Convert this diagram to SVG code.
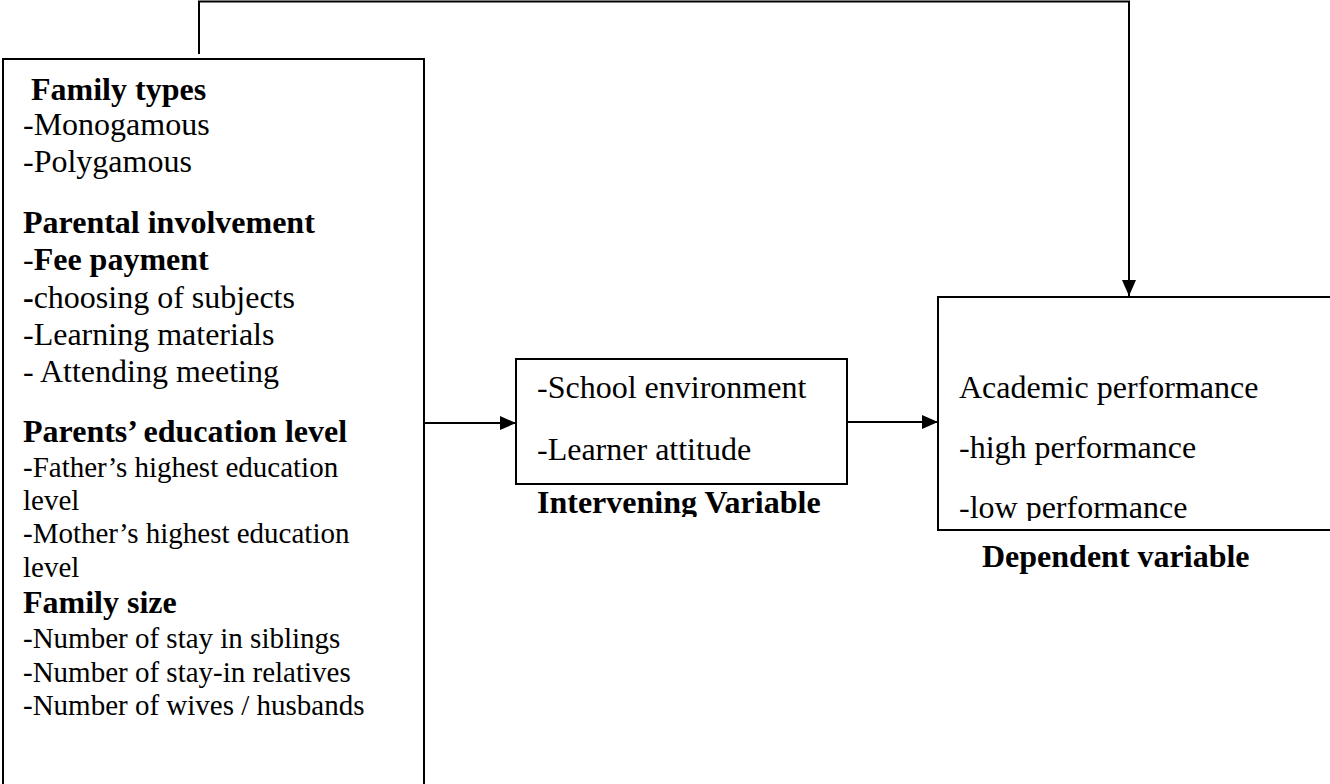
<svg xmlns="http://www.w3.org/2000/svg" width="1330" height="784" viewBox="0 0 1330 784">
<style>
.box{fill:#fff;stroke:#000;stroke-width:2}
.ln{fill:none;stroke:#000;stroke-width:2}
text{font-family:"Liberation Serif","Times New Roman",serif;fill:#000}
.t{font-size:32px}
.s{font-size:29px}
.b{font-weight:bold}
</style>
<defs>
<marker id="ah" viewBox="0 0 16 14" refX="16" refY="7" markerWidth="16" markerHeight="14" markerUnits="userSpaceOnUse" orient="auto">
<path d="M0,0 L16,7 L0,14 Z" fill="#000"/>
</marker>
<clipPath id="cm"><rect x="500" y="340" width="360" height="177"/></clipPath>
<clipPath id="cr"><rect x="930" y="290" width="420" height="231"/></clipPath>
</defs>
<rect width="1330" height="784" fill="#fff"/>
<g id="connectors">
<path class="ln" d="M199,54 V1.5 H1129 V296" marker-end="url(#ah)"/>
<line class="ln" x1="424" y1="423" x2="516" y2="423" marker-end="url(#ah)"/>
<line class="ln" x1="848" y1="422" x2="938" y2="422" marker-end="url(#ah)"/>
</g>
<g id="independent">
<rect class="box" x="3" y="59" width="421" height="760"/>
<text class="t b" x="31" y="100">Family types</text>
<text class="t" x="23" y="135">-Monogamous</text>
<text class="t" x="23" y="172">-Polygamous</text>
<text class="t b" x="23" y="233">Parental involvement</text>
<text class="t" x="23" y="270">-<tspan class="b">Fee payment</tspan></text>
<text class="t" x="23" y="308"><tspan class="b">-</tspan>choosing of subjects</text>
<text class="t" x="23" y="345">-Learning materials</text>
<text class="t" x="23" y="382">- Attending meeting</text>
<text class="t b" x="23" y="442">Parents’ education level</text>
<text class="s" x="23" y="477">-Father’s highest education</text>
<text class="s" x="23" y="510">level</text>
<text class="s" x="23" y="543">-Mother’s highest education</text>
<text class="s" x="23" y="577">level</text>
<text class="t b" x="23" y="613">Family size</text>
<text class="s" x="23" y="648">-Number of stay in siblings</text>
<text class="s" x="23" y="682">-Number of stay-in relatives</text>
<text class="s" x="23" y="715">-Number of wives / husbands</text>
</g>
<g id="intervening">
<rect class="box" x="516" y="359" width="331" height="125"/>
<text class="t" x="537" y="398">-School environment</text>
<text class="t" x="537" y="460">-Learner attitude</text>
<text class="t b" x="537" y="513" clip-path="url(#cm)">Intervening Variable</text>
</g>
<g id="dependent">
<rect class="box" x="938" y="297" width="420" height="233"/>
<text class="t" x="959" y="398">Academic performance</text>
<text class="t" x="959" y="458">-high performance</text>
<text class="t" x="959" y="518" clip-path="url(#cr)">-low performance</text>
<text class="t b" x="982" y="567">Dependent variable</text>
</g>
</svg>
